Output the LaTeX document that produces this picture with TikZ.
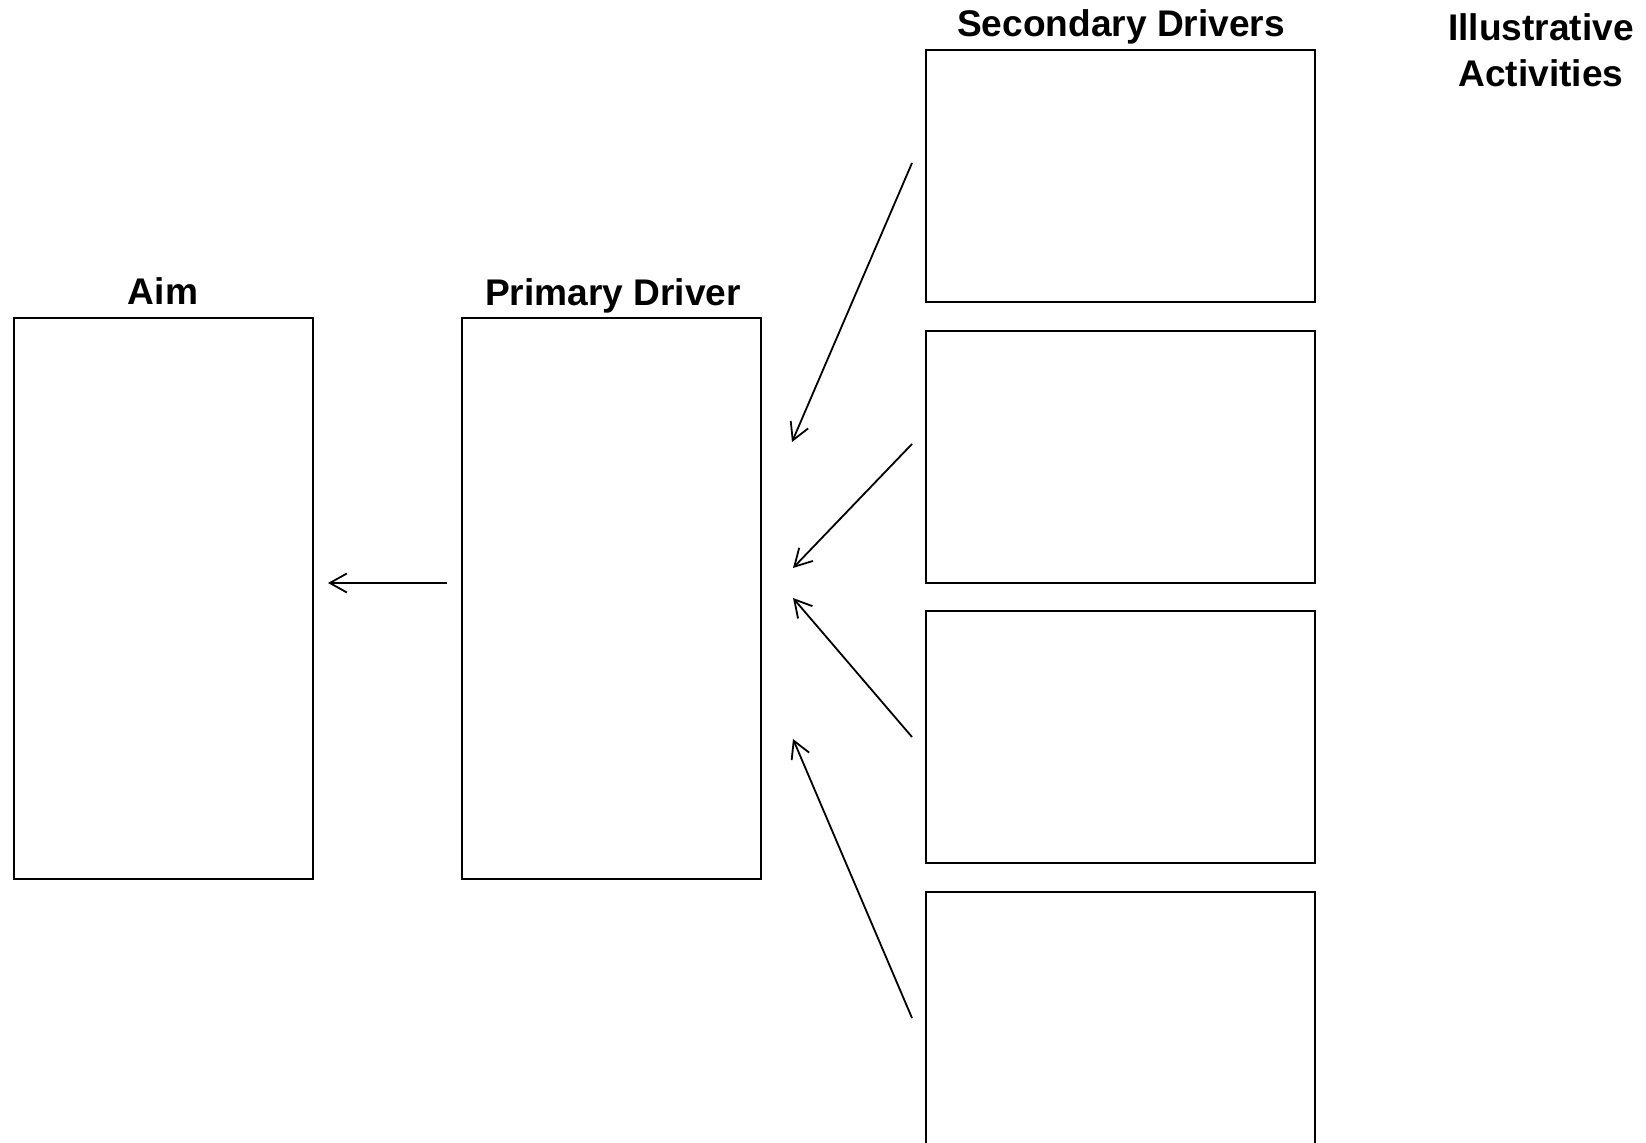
\documentclass[tikz,border=0pt]{standalone}
\usepackage{fontspec}
\setmainfont{Liberation Sans}
\usetikzlibrary{arrows.meta}
\begin{document}
\begin{tikzpicture}[x=0.5pt,y=-0.5pt,
  box/.style={draw,line width=1pt,inner sep=0pt,anchor=north west},
  aimbox/.style={box,minimum width=149.5pt,minimum height=280.5pt},
  secbox/.style={box,minimum width=194.5pt,minimum height=126pt},
  title/.style={font=\bfseries\fontsize{18.55}{23.3}\selectfont,inner sep=0pt,align=center},
  conn/.style={line width=0.9pt,-{Straight Barb[length=8.5pt,width=9.5pt]}}]
\useasboundingbox (0,0) rectangle (1646,1143);
\clip (0,0) rectangle (1646,1143);
% boxes
\node[aimbox] (aim) at (13,317) {};
\node[aimbox] (primary) at (461,317) {};
\node[secbox] (sec1) at (925,49) {};
\node[secbox] (sec2) at (925,330) {};
\node[secbox] (sec3) at (925,610) {};
\node[secbox] (sec4) at (925,891) {};
% titles
\node[title,anchor=base] (aimt) at (163,305) {Aim};
\node[title,anchor=base] (pdt) at (613,306) {Primary Driver};
\node[title,anchor=base] (sdt) at (1121,37) {Secondary Drivers};
\node[title,anchor=north] (iat) at (1541,13) {Illustrative\\Activities};
% connector end points
\coordinate (p0s) at (447,583);
\coordinate (p0e) at (328,583);
\coordinate (s1s) at (912,163);
\coordinate (s1e) at (792,442);
\coordinate (s2s) at (912,444);
\coordinate (s2e) at (793,568);
\coordinate (s3s) at (912,737);
\coordinate (s3e) at (793,598);
\coordinate (s4s) at (912,1018);
\coordinate (s4e) at (793,739);
% connectors
\draw[conn] (p0s) -- (p0e);
\draw[conn] (s1s) -- (s1e);
\draw[conn] (s2s) -- (s2e);
\draw[conn] (s3s) -- (s3e);
\draw[conn] (s4s) -- (s4e);
\end{tikzpicture}
\end{document}
